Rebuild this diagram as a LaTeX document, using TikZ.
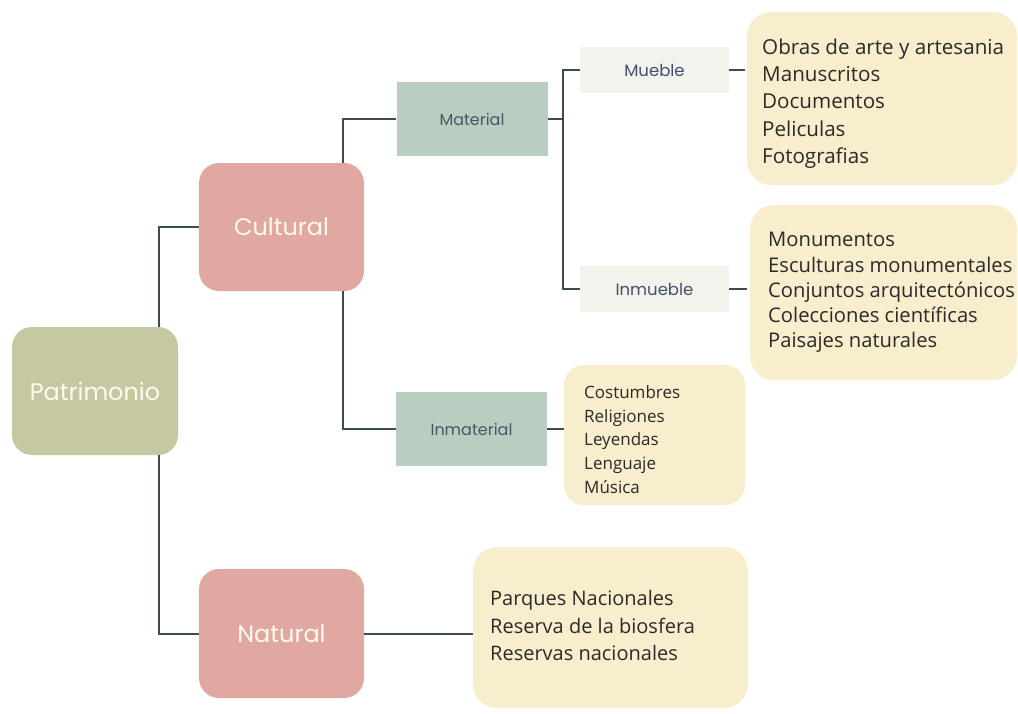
\documentclass[tikz,border=0pt]{standalone}
\usepackage{fontspec}
\setmainfont{Open Sans}
\newfontfamily\headfont{Poppins}
\newfontfamily\listfont{Open Sans}
\definecolor{patcol}{HTML}{C5C8A0}
\definecolor{culcol}{HTML}{E0A8A0}
\definecolor{matcol}{HTML}{B9CDC0}
\definecolor{muecol}{HTML}{F3F3EE}
\definecolor{listcol}{HTML}{F8EDCC}
\definecolor{linecol}{HTML}{3D4B57}
\definecolor{headtxt}{HTML}{FFF9F0}
\definecolor{mattxt}{HTML}{3F5A62}
\definecolor{muetxt}{HTML}{42506A}
\definecolor{listtxt}{HTML}{2A2A2A}
\tikzset{
  bigbox/.style={draw=none, rounded corners=20pt, inner sep=0pt, text=headtxt,
    font=\headfont\fontsize{24}{28}\selectfont},
  midbox/.style={draw=none, fill=matcol, inner sep=0pt, text=mattxt,
    minimum width=151pt, minimum height=74pt, font=\headfont\fontsize{16}{20}\selectfont},
  smallbox/.style={draw=none, fill=muecol, inner sep=0pt, text=muetxt,
    minimum width=149pt, minimum height=46pt, font=\headfont\fontsize{16.5}{20}\selectfont},
  listbox/.style={draw=none, fill=listcol, rounded corners=24pt, inner sep=0pt, anchor=center},
  listtext/.style={anchor=west, align=left, inner sep=0pt, text=listtxt}
}
\begin{document}
\begin{tikzpicture}[x=1pt,y=-1pt]
\useasboundingbox[fill=white] (0,0) rectangle (1018,713);

% main boxes
\node[bigbox, fill=patcol, minimum width=166pt, minimum height=128pt] (pat) at (95,391) {Patrimonio};
\node[bigbox, fill=culcol, minimum width=165pt, minimum height=128pt] (cul) at (281.5,227) {Cultural};
\node[bigbox, fill=culcol, minimum width=165pt, minimum height=129pt] (nat) at (281.5,633.5) {Natural};

% second level
\node[midbox] (mat) at (472,119) {Material};
\node[midbox] (inm) at (471.5,429) {Inmaterial};

% third level
\node[smallbox] (mue) at (654.5,70) {Mueble};
\node[smallbox] (inb) at (654.5,289) {Inmueble};

% list boxes
\node[listbox, minimum width=270pt, minimum height=173pt] (muelist) at (882,98.5) {};
\node[listbox, minimum width=267pt, minimum height=175pt] (inblist) at (883.5,292.5) {};
\node[listbox, rounded corners=20pt, minimum width=181pt, minimum height=140pt] (inmlist) at (654.5,435) {};
\node[listbox, minimum width=275pt, minimum height=161pt] (natlist) at (610.5,627.5) {};

% list texts
\node[listtext, font=\listfont\fontsize{20.6}{27.2}\selectfont] (muetxt) at (762,103.5)
  {Obras de arte y artesania\\Manuscritos\\Documentos\\Peliculas\\Fotografias};
\node[listtext, font=\listfont\fontsize{20.2}{25.2}\selectfont] (inbtxt) at (768,292.5)
  {Monumentos\\Esculturas monumentales\\Conjuntos arquitectónicos\\Colecciones científicas\\Paisajes naturales};
\node[listtext, font=\listfont\fontsize{17}{23.7}\selectfont] (inmtxt) at (584,439.5)
  {Costumbres\\Religiones\\Leyendas\\Lenguaje\\Música};
\node[listtext, font=\listfont\fontsize{20}{27.5}\selectfont] (nattxt) at (490,625.5)
  {Parques Nacionales\\Reserva de la biosfera\\Reservas nacionales};

% junction coordinates
\coordinate (j1) at (159,0);
\coordinate (j2) at (343,0);
\coordinate (j3) at (563,0);

% connectors
\tikzset{conn/.style={draw=linecol, line width=2pt}}
\draw[conn] (j1 |- pat.north) |- (cul.west);
\draw[conn] (j1 |- pat.south) |- (nat.west);
\draw[conn] (j2 |- cul.north) |- (mat.west);
\draw[conn] (j2 |- cul.south) |- (inm.west);
\draw[conn] (mat.east) -- (mat.east -| j3);
\draw[conn] (mue.west) -| (j3 |- inb.west) -- (inb.west);
\draw[conn] (mue.east) -- ([xshift=-2pt]muelist.west |- mue.east);
\draw[conn] (inb.east) -- ([xshift=-3pt]inblist.west |- inb.east);
\draw[conn] (inm.east) -- (inmlist.west |- inm.east);
\draw[conn] (nat.east) -- (natlist.west |- nat.east);
\end{tikzpicture}
\end{document}
